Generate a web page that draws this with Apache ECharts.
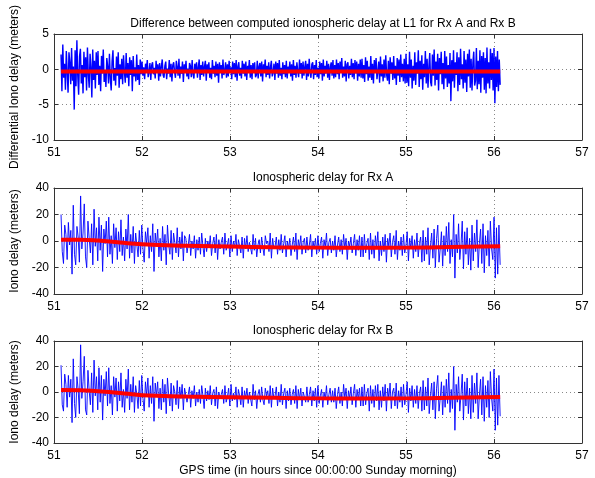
<!DOCTYPE html>
<html>
<head>
<meta charset="utf-8">
<script src="https://cdn.jsdelivr.net/npm/echarts@6/dist/echarts.min.js"></script>
<style>html,body{margin:0;padding:0;background:#fff}#c{width:595px;height:478px}</style>
</head>
<body>
<div id="c"></div>
<script>
// Time span of the recordings (hours since 00:00:00 Sunday)
const tStart = 51.08, tEnd = 56.07;
const xTicks = [51, 52, 53, 54, 55, 56, 57];
const titles = [
  'Difference between computed ionospheric delay at L1 for Rx A and Rx B',
  'Ionospheric delay for Rx A',
  'Ionospheric delay for Rx B'
];
const yNames = ['Differential Iono delay (meters)', 'Iono delay (meters)', 'Iono delay (meters)'];
const xName = 'GPS time (in hours since 00:00:00 Sunday morning)';

// Differential iono delay (m), samples
const diffDelay = [
2.1,-3.1,3.5,-1.2,0.8,-2.9,2.6,-0.5,-3.3,2.4,1.0,-2.1,3.0,-1.6,0.4,-5.7,2.7,-2.4,4.1,-0.9,
-3.6,1.8,2.9,-2.0,0.6,-3.4,2.5,-1.1,1.7,-3.0,3.1,-0.7,-2.6,2.2,0.3,-4.0,2.8,-1.5,1.2,-2.7,2.4,-0.8,
2.6,-2.2,0.5,-3.1,1.9,-0.6,2.8,-1.8,-0.2,-2.5,
1.6,0.4,-2.0,2.2,-1.3,-3.0,1.1,2.7,-1.6,0.2,
-2.3,1.8,-0.9,2.4,-2.6,0.7,-1.4,1.5,-2.1,2.0,
-0.4,-1.9,2.3,-1.2,0.9,-2.4,1.7,-0.8,1.3,-3.1,
1.9,-1.0,0.3,-1.7,2.1,-1.5,0.6,-2.2,1.4,-0.7,
1.1,-0.9,0.3,-1.4,0.8,-0.2,1.3,-1.1,-0.4,0.9,
-1.5,0.6,1.0,-0.7,0.2,-1.3,1.2,-0.5,0.7,-1.6,
0.9,-1.0,0.4,1.4,-0.8,-1.2,0.5,1.1,-1.4,0.1,
-0.6,1.3,-1.1,0.8,-1.7,0.6,1.0,-0.3,-1.2,1.2,
0.3,-0.9,1.5,-1.3,0.4,-0.6,1.1,-1.8,0.7,-0.2,
1.2,-1.0,0.1,-1.4,0.9,0.5,-1.1,1.3,-0.7,-1.3,
0.8,-0.4,1.0,-1.2,0.3,1.4,-1.5,0.6,-0.8,1.1,
-1.0,0.4,1.2,-1.6,0.7,-0.3,1.0,-1.2,0.2,-1.4,
1.3,-0.6,0.5,-1.1,1.1,-0.9,0.8,-1.9,1.0,-0.4,
0.6,-1.3,1.4,-0.8,-0.2,1.0,-1.2,0.7,-1.0,1.2,
-0.5,0.3,-1.4,1.1,-0.7,0.9,-1.1,1.3,-1.6,0.4,
1.0,-0.9,0.2,-1.3,1.2,-0.6,0.8,-1.0,1.1,-1.5,
0.5,-0.3,1.3,-1.2,0.6,-1.4,0.9,-0.5,1.0,-1.1,
-0.8,1.2,-1.3,0.4,0.9,-1.0,1.1,-1.7,0.7,-0.2,
1.4,-1.1,0.5,-0.8,1.0,-1.3,0.3,1.2,-1.0,-0.4,
0.8,-1.5,1.1,-0.6,0.9,-1.2,1.3,-0.9,0.2,-1.4,
1.0,-0.7,0.6,-1.1,1.2,-1.3,0.4,-0.5,1.1,-1.0,
0.7,-1.6,1.3,-0.8,0.5,-1.2,1.0,-0.3,-1.1,1.4,
-0.6,0.9,-1.3,1.1,-0.9,0.3,1.2,-1.5,0.8,-1.0,
1.5,-0.4,-1.2,0.7,1.0,-1.4,0.6,-0.8,1.3,-1.1,
0.2,-1.3,1.1,-0.7,0.9,-1.6,1.4,-1.0,0.5,-0.6,
1.2,-1.2,0.8,-1.5,0.3,1.0,-0.9,1.3,-1.3,0.6,
-1.1,1.4,-0.7,0.9,-1.4,1.1,-0.5,1.6,-1.2,0.4,
-1.0,1.2,-1.7,0.7,1.0,-1.3,0.5,-0.8,1.5,-1.1,
0.9,-1.4,1.3,-0.6,1.1,-1.6,0.8,-1.0,1.4,-1.2,
1.5,-1.3,0.6,-1.8,1.7,-0.7,1.2,-1.6,0.4,-1.2,
1.9,-1.5,0.8,-2.0,1.3,-0.5,1.6,-1.4,-0.3,1.1,
-1.9,1.8,-1.0,0.7,-1.7,1.4,-1.2,2.0,-0.8,-1.6,
1.2,-2.1,1.7,-0.6,1.0,-1.5,1.9,-1.3,0.5,-2.2,
1.6,-0.9,1.4,-1.8,2.1,-1.1,0.8,-1.7,1.5,-2.0,
2.2,-1.9,0.7,-2.4,2.5,-1.2,1.4,-2.7,0.5,-1.6,
2.4,-2.2,1.0,-0.6,2.7,-2.5,1.2,-1.4,2.0,-2.9,
0.8,-1.1,2.6,-2.0,1.5,-2.6,0.4,2.3,-1.8,-2.4,
2.1,-0.9,2.8,-2.3,1.1,-1.5,2.2,-3.0,1.6,-0.7,
2.5,-2.1,0.9,-2.8,2.6,-1.3,1.8,-2.5,0.6,-2.0,
2.3,-4.5,1.3,-1.7,2.7,-2.6,1.0,-0.8,2.4,-3.1,
1.7,-2.2,2.9,-1.4,0.7,-2.7,2.6,-1.9,1.4,-3.2,
2.2,-1.0,2.8,-2.6,1.5,-3.0,0.9,2.5,-2.3,-1.6,
3.0,-2.8,1.2,-2.1,2.7,-3.3,1.9,-1.2,2.4,-2.9,
1.6,-3.4,3.1,-2.0,1.0,-2.7,2.9,-1.5,2.3,-3.0,
3.0,-4.8,1.8,-2.5,2.6,-3.1,1.4,-2.2
];

// Iono delay Rx A (m)
const delayA = [
20,-8,-17,12,5,-14,14,-3,8,-25,27,-10,-18,11,3,-16,34,-6,6,28,-12,-20,15,2,-9,13,-18,24,-4,10,
-15,18,-7,12,-23,9,-2,15,-12,18,-10,4,-17,13,-5,10,-14,7,-8,16,-11,3,-15,9,-6,20,-13,5,-9,11,-17,6,-3,-12,8,-10,
12,-6,-16,7,-2,10,-13,4,-8,13,-23,6,-4,9,-12,2,-15,11,-7,5,-18,12,-3,-10,8,-14,6,-1,-9,10,-12,3,-6,7,-15,4,
2,-9,-3,5,-11,0,-6,4,-13,1,
-7,3,-10,6,-4,-12,2,-8,0,-5,
4,-11,-2,3,-9,5,-14,1,-6,-1,
3,-10,6,-7,-3,2,-12,4,-8,0,
-5,5,-11,1,-4,-9,3,-13,2,-6,
4,-8,-1,0,-10,5,-7,2,-12,-3,
1,-9,3,-5,-11,4,-2,0,-8,6,
-13,2,-6,-4,3,-10,1,-7,5,-9,
-2,4,-12,0,-6,2,-11,-3,3,-8,
6,-14,1,-5,4,-10,-1,2,-9,3,
-7,-3,5,-12,0,-6,2,-10,4,-8,
-2,3,-13,1,-5,6,-11,-1,2,-9,
0,-7,4,-12,-3,3,-8,1,-10,5,
-6,2,-14,0,-4,3,-9,-2,5,-11,1,-7,4,-12,
3,-12,5,-9,-2,2,-14,6,-10,1,
-13,4,-6,7,-15,0,-11,3,-8,5,
-16,2,-4,6,-12,-1,4,-10,8,-14,
0,-7,3,-11,5,-9,-3,7,-15,2,
-6,4,-13,1,-8,6,-12,-2,3,-16,
8,-15,3,-10,10,-18,-4,6,-13,9,
-20,2,12,-16,-6,7,-19,4,-11,11,
-8,14,-17,1,-12,20,-28,5,-9,13,
-14,-3,15,-21,7,-10,10,-18,2,-22,
12,-15,6,-8,16,-20,-2,9,-17,13,
-24,4,-11,8,-19,15,-6,-14,18,-28,
10,-25,12,-18
];

// Iono delay Rx B (m)
const delayB = [
21,-10,-15,14,6,-12,13,-4,10,-24,26,-9,-20,12,2,-17,37,-5,8,28,-14,-18,17,1,-10,15,-16,25,-3,12,
-14,19,-8,13,-22,10,-3,16,-11,19,-9,5,-18,12,-4,11,-15,8,-7,15,-12,2,-16,10,-5,18,-14,6,-8,12,-16,5,-2,-13,9,-11,
13,-5,-15,8,-3,11,-12,5,-9,12,-23,7,-3,8,-13,3,-14,10,-8,6,-17,11,-2,-11,7,-15,5,0,-10,9,-13,4,-5,6,-14,3,
3,-8,-2,4,-12,1,-5,5,-11,0,
-8,2,-9,5,-3,-13,3,-7,1,-6,
5,-10,-1,2,-11,4,-13,0,-5,-2,
2,-9,5,-8,-4,3,-11,6,-7,-1,
-6,4,-12,2,-3,-10,4,-12,1,-5,
3,-9,0,-1,-11,6,-6,1,-13,-2,
2,-8,4,-6,-10,3,-3,1,-9,5,
-12,3,-5,-3,4,-11,0,-8,6,-10,
-1,3,-13,1,-7,3,-10,-2,2,-9,
5,-13,2,-6,3,-11,0,1,-8,4,
-8,-2,4,-11,1,-7,3,-12,5,-9,
-3,2,-12,0,-6,5,-10,-2,3,-8,
1,-8,3,-13,-2,4,-9,0,-11,6,
-5,3,-13,1,-5,4,-10,-1,6,-12,2,-6,3,-11,
4,-11,6,-10,-1,3,-15,5,-9,2,
-12,5,-7,6,-14,1,-12,4,-7,6,
-15,3,-5,7,-13,0,3,-11,7,-13,
1,-8,4,-12,6,-10,-2,8,-16,3,
-7,5,-12,2,-9,5,-13,-1,4,-15,
9,-14,4,-11,11,-17,-3,7,-14,8,
-21,3,13,-15,-5,8,-18,5,-12,10,
-9,15,-16,2,-13,20,-30,6,-8,12,
-15,-2,14,-22,8,-11,11,-17,3,-21,
13,-16,7,-9,15,-21,-3,10,-18,12,
-23,5,-12,9,-20,16,-5,-15,18,-30,
11,-26,13,-19
];

// Smoothed trends (red), knots [hour, metres]
const trendDiff = [[51.08,-0.3],[53.5,-0.3],[56.07,-0.3]];
const trendA = [[51.08,1],[51.3,1],[51.5,0.4],[51.75,-1.2],[52.0,-2.5],[52.5,-3.6],[53.0,-4.2],[53.5,-4.7],[54.0,-5.0],[54.5,-5.1],[55.0,-5.0],[55.5,-4.6],[56.07,-4.0]];
const trendB = [[51.08,1.5],[51.3,1.4],[51.5,0.5],[51.8,-1.2],[52.0,-2.5],[52.5,-3.5],[53.0,-4.1],[53.5,-4.6],[54.0,-5.0],[54.5,-5.1],[55.0,-5.0],[55.5,-4.6],[56.07,-4.0]];

const yRanges = [[-10,5,5],[-40,40,20],[-40,40,20]];
const blueSets = [diffDelay, delayA, delayB];
const redSets = [trendDiff, trendA, trendB];
const blueWidths = [1.4, 0.9, 0.9];

function withTime(vals){
  const n = vals.length;
  return vals.map((v,i)=>[tStart + i*(tEnd-tStart)/(n-1), v]);
}

const FONT = 'Liberation Sans';
const tops = [34, 188, 341];
const H = 106;
const grids = [], xAxes = [], yAxes = [], series = [], title = [];
for (let k=0;k<3;k++){
  grids.push({left:54, right:13, top:tops[k], height:H, containLabel:false});
  title.push({text:titles[k], left:318, top:tops[k]-21, textAlign:'center',
    textStyle:{fontFamily:FONT, fontSize:12, fontWeight:'normal', color:'#000'}});
  const axLine = {show:true, onZero:false, lineStyle:{color:'#333', width:1}};
  xAxes.push({type:'value', gridIndex:k, min:xTicks[0], max:xTicks[xTicks.length-1], interval:1, position:'bottom',
    axisLine:axLine, axisTick:{show:true, inside:true, length:4, lineStyle:{color:'#333'}},
    axisLabel:{fontFamily:FONT, fontSize:12, color:'#000', margin:7},
    splitLine:{show:true, lineStyle:{color:'#888', type:[1,3], width:1}},
    name: k===2 ? xName : '', nameLocation:'middle', nameGap:22,
    nameTextStyle:{fontFamily:FONT, fontSize:12, color:'#000'}});
  xAxes.push({type:'value', gridIndex:k, min:xTicks[0], max:xTicks[xTicks.length-1], interval:1, position:'top',
    axisLine:axLine, axisTick:{show:true, inside:true, length:4, lineStyle:{color:'#333'}},
    axisLabel:{show:false}, splitLine:{show:false}});
  const [ymin,ymax,yint] = yRanges[k];
  yAxes.push({type:'value', gridIndex:k, min:ymin, max:ymax, interval:yint, position:'left',
    axisLine:axLine, axisTick:{show:true, inside:true, length:4, lineStyle:{color:'#333'}},
    axisLabel:{fontFamily:FONT, fontSize:12, color:'#000', margin:5},
    splitLine:{show:true, lineStyle:{color:'#888', type:[1,3], width:1}},
    name:yNames[k], nameLocation:'middle', nameGap:30,
    nameTextStyle:{fontFamily:FONT, fontSize:12, color:'#000'}});
  yAxes.push({type:'value', gridIndex:k, min:ymin, max:ymax, interval:yint, position:'right',
    axisLine:axLine, axisTick:{show:true, inside:true, length:4, lineStyle:{color:'#333'}},
    axisLabel:{show:false}, splitLine:{show:false}});
  series.push({type:'line', xAxisIndex:2*k, yAxisIndex:2*k, data:withTime(blueSets[k]),
    showSymbol:false, symbol:'none', sampling:null, lineStyle:{color:'#0000ff', width:blueWidths[k]}, animation:false, z:2});
  series.push({type:'line', xAxisIndex:2*k, yAxisIndex:2*k, data:redSets[k], smooth:true,
    showSymbol:false, symbol:'none', lineStyle:{color:'#ff0000', width:4}, animation:false, z:3});
}

const chart = echarts.init(document.getElementById('c'), null, {renderer:'canvas'});
chart.setOption({backgroundColor:'#fff', animation:false, title, grid:grids, xAxis:xAxes, yAxis:yAxes, series});
</script>
</body>
</html>
